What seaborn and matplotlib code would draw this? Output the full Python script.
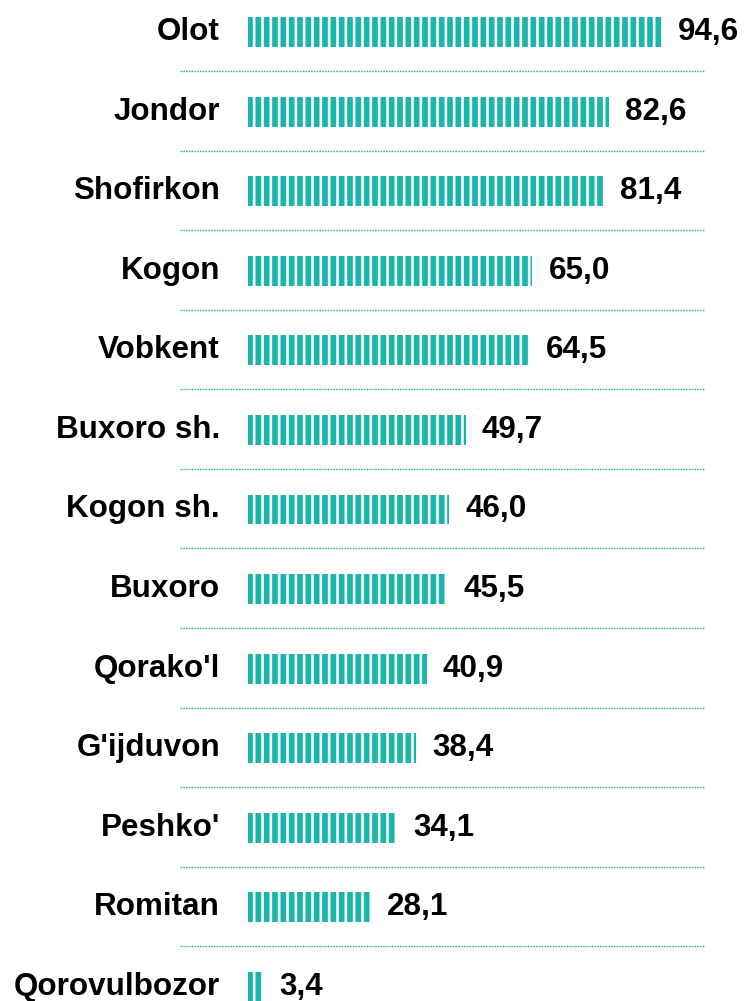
import matplotlib
matplotlib.use("Agg")
import matplotlib.pyplot as plt
import seaborn as sns
import pandas as pd

districts = ["Olot", "Jondor", "Shofirkon", "Kogon", "Vobkent", "Buxoro sh.",
             "Kogon sh.", "Buxoro", "Qorako'l", "G'ijduvon", "Peshko'", "Romitan",
             "Qorovulbozor"]
values = [94.6, 82.6, 81.4, 65.0, 64.5, 49.7, 46.0, 45.5, 40.9, 38.4, 34.1, 28.1, 3.4]

df = pd.DataFrame({"district": districts, "value": values})

sns.set_theme(style="white")
plt.rcParams["font.family"] = ["Liberation Sans", "DejaVu Sans"]
plt.rcParams["hatch.linewidth"] = 1.9
plt.rcParams["hatch.color"] = "white"

W, H, DPI = 744, 1001, 100
fig = plt.figure(figsize=(W / DPI, H / DPI), dpi=DPI)
ax = fig.add_axes([0, 0, 1, 1])

teal = "#1bb6ab"
sns.barplot(data=df, y="district", x="value", orient="h", color=teal,
            width=0.375, ax=ax, saturation=1)
for p in ax.patches:
    p.set_hatch("||")
    p.set_edgecolor("white")
    p.set_linewidth(0)

# pixel-based layout
x0_px, scale = 248, 414 / 94.6
ax.set_xlim(-x0_px / scale, (W - x0_px) / scale)
row0, step = 32, 79.58
ax.set_ylim((H - row0) / step, -row0 / step)

for i, (d, v) in enumerate(zip(districts, values)):
    ax.text(-28 / scale, i, d, ha="right", va="center", fontsize=22.6,
            fontweight="bold", color="black")
    ax.text(v + 16 / scale, i, f"{v:.1f}".replace(".", ","), ha="left",
            va="center", fontsize=22.6, fontweight="bold", color="black")

ax.hlines([i + 0.49 for i in range(len(districts) - 1)],
          -68 / scale, (705 - x0_px) / scale, colors="#3cb2a9",
          linestyles=(0, (1.2, 0.8)), linewidth=1.0)

ax.axis("off")
fig.savefig("out.png", dpi=DPI, facecolor="white")
